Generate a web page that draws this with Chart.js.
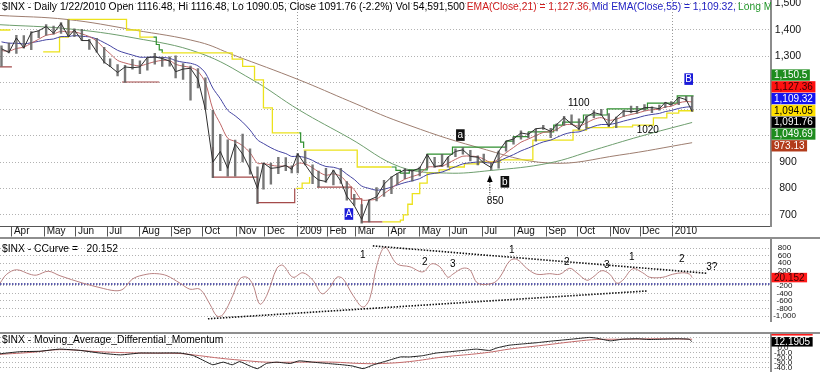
<!DOCTYPE html>
<html><head><meta charset="utf-8"><title>$INX daily</title>
<script src="https://cdn.jsdelivr.net/npm/chart.js@4.4.1/dist/chart.umd.min.js"></script>
<style>
html,body{margin:0;padding:0;background:#fff}
#wrap{position:relative;width:820px;height:382px;overflow:hidden;background:#fff}
canvas{position:absolute;left:0;display:block}
.sep{position:absolute;left:0;width:820px;height:2px;background:#8e8e8e}
</style></head><body>
<div id="wrap">
<canvas id="cp" width="820" height="237" style="top:0px"></canvas>
<div class="sep" style="top:237px"></div>
<canvas id="cc" width="820" height="93" style="top:239px"></canvas>
<div class="sep" style="top:332px"></div>
<canvas id="cm" width="820" height="48" style="top:334px"></canvas>
</div>
<script>
// ---------- x axis: trading-day index since 19 Mar 2008 ----------
const X_MIN = 0, X_MAX = 518;
const monthTickDays = [8,30,51,72,94,115,136,159,178,200,220,239,261,282,302,324,346,367,388,410,430,452];
const monthTickLabels = ['Apr','May','Jun','Jul','Aug','Sep','Oct','Nov','Dec','2009','Feb','Mar','Apr','May','Jun','Jul','Aug','Sep','Oct','Nov','Dec','2010'];
const yearTickLabels = ['2009','2010'];

// ---------- price panel (weekly samples) ----------
const weekDays = [1,6,11,16,21,26,31,36,41,46,50,55,60,65,70,74,79,84,89,94,99,104,109,114,118,123,128,133,138,143,148,153,158,163,168,173,177,182,187,192,196,200,
205,210,214,219,224,229,233,238,243,248,253,258,263,267,272,277,282,287,292,297,301,306,311,316,321,325,330,335,340,345,350,355,360,365,370,374,379,384,389,394,399,404,409,414,419,424,428,433,438,443,447,451,456,461,465];
const weekClose = [1329,1315,1370,1332,1390,1397,1413,1388,1425,1375,1400,1360,1360,1317,1278,1262,1239,1260,1257,1260,1296,1298,1292,1282,1242,1252,1255,1213,1099,899,940,876,968,930,873,800,896,876,879,887,872,931,
890,850,832,826,869,827,770,735,683,756,768,816,843,857,870,866,877,929,883,887,919,940,946,921,918,896,879,940,979,987,1010,1005,1026,1029,1016,1042,1068,1044,1025,1071,1087,1080,1036,1069,1093,1091,1092,1106,1106,1102,1126,1115,1145,1136,1092];
const weekHigh = [1341,1352,1381,1380,1395,1399,1422,1416,1429,1440,1406,1404,1366,1370,1336,1292,1270,1267,1290,1284,1297,1313,1299,1300,1303,1274,1265,1255,1220,1097,1006,985,984,1007,951,883,897,897,919,918,887,934,
943,891,867,877,871,877,827,779,740,758,804,832,845,857,876,871,882,930,919,930,920,951,956,945,925,931,898,943,980,996,1019,1013,1027,1040,1029,1046,1074,1080,1065,1076,1096,1101,1085,1071,1097,1113,1112,1119,1110,1117,1127,1130,1146,1150,1150];
const weekLow = [1262,1312,1310,1330,1324,1370,1379,1383,1386,1373,1373,1358,1325,1315,1273,1260,1225,1200,1250,1233,1247,1269,1261,1262,1217,1212,1133,1179,1098,839,866,845,845,899,853,741,796,815,855,866,857,857,
888,817,804,821,812,818,754,734,667,672,751,768,779,814,836,826,846,875,878,881,879,919,928,903,888,896,869,875,940,966,985,990,978,1022,991,1016,1037,1041,1020,1026,1067,1076,1033,1029,1071,1085,1083,1094,1086,1095,1105,1115,1116,1131,1090];
const ema21 = [1322,1320,1330,1335,1350,1365,1380,1385,1395,1392,1393,1385,1375,1358,1330,1310,1285,1275,1268,1264,1272,1280,1285,1284,1270,1263,1258,1243,1200,1100,1045,990,978,962,935,895,895,888,884,885,880,895,
893,878,863,850,855,846,823,795,757,756,760,780,800,818,835,845,855,880,882,884,895,910,922,922,920,911,898,911,935,955,975,987,1000,1012,1015,1023,1040,1042,1036,1048,1062,1068,1058,1062,1073,1080,1085,1093,1098,1100,1109,1111,1124,1129,1127.36];
const ema55 = [1355,1350,1350,1347,1352,1357,1363,1366,1375,1375,1379,1376,1374,1366,1352,1340,1323,1313,1305,1297,1297,1297,1296,1293,1284,1278,1274,1264,1237,1180,1140,1096,1075,1051,1021,984,970,954,941,932,921,922,
917,906,894,883,880,871,854,834,809,800,793,797,805,813,822,829,837,852,857,862,871,882,893,897,900,899,896,903,916,928,942,953,965,976,983,993,1005,1012,1014,1024,1035,1042,1042,1047,1055,1062,1067,1075,1080,1084,1091,1095,1103,1108,1109.32];
const longGreenDays = [0,45,90,134,170,201,235,269,300,330,369,400,430,465];
const longGreenVals = [1420,1405,1370,1313,1210,1097,990,881,858,868,896,947,997,1049.69];
const longBrownDays = [0,45,90,134,157,201,235,269,320,369,416,465];
const longBrownVals = [1455,1440,1400,1354,1305,1211,1130,1051,957,896,926,973.13];
const stopYellow = [[0,1400],[7,1400],null,
 [29,1317],[40,1373],[46,1440],[85,1400],[94,1373],[103,1373],null,
 [109,1313],[156,1290],[163,1262],[171,1211],[177,1105],[183,1010],[201,1010],null,
 [199,800],[203,820],[208,843],null,
 [204,945],[240,881],[263,881],null,
 [257,673],[269,680],[271,700],[274,740],[277,780],[282,820],[287,858],[295,870],[302,881],[312,893],[322,900],[336,908],[358,983],[385,1021],[394,1030],[412,1033],[425,1040],[439,1067],[448,1085],[456,1094.05],[466,1094.05]];
const stopGreen = [[103,1373],[105,1345],[107,1325],[109,1313],null,
 [201,1010],[202,975],[204,953],null,
 [263,881],[266,868],[269,858],[275,870],[287,930],[304,956],[340,979],[345,996],[355,1014],[372,1040],[378,1051],[392,1078],[408,1101],[435,1123],[455,1150.5],[466,1150.5]];
const stopBrown = [[0,1260],[8,1260],null,
 [82,1203],[107,1203],null,
 [143,957],[143,843],[173,746],[198,746],[198,800],null,
 [213,805],[230,805],[236,760],[243,673],[257,673]];
const priceTicks = [700,800,900,1000,1100,1200,1300,1400,1500];
const priceTicksHidden = [1000,1100,1200];
const priceLast = [
 {v:1150.5, t:'1,150.5', bg:'#1e8c1e', fg:'#fff'},
 {v:1127.36, t:'1,127.36', bg:'#ff1010', fg:'#3a0000'},
 {v:1109.32, t:'1,109.32', bg:'#1414f0', fg:'#fff'},
 {v:1094.05, t:'1,094.05', bg:'#ffe000', fg:'#000'},
 {v:1091.76, t:'1,091.76', bg:'#000', fg:'#fff'},
 {v:1049.69, t:'1,049.69', bg:'#1e8c1e', fg:'#fff'},
 {v:973.13, t:'973.13', bg:'#b23c1c', fg:'#fff'}];
const priceTitle = [
 {t:'$INX - Daily 1/22/2010 Open 1116.48, Hi 1116.48, Lo 1090.05, Close 1091.76 (-2.2%) Vol', x:2, c:'#000'},
 {t:'54,591,500', x:413, c:'#000'},
 {t:'EMA(Close,21) = 1,127.36,', x:466.7, c:'#d01e1e'},
 {t:'Mid EMA(Close,55) = 1,109.32,', x:591.7, c:'#2424c4'},
 {t:'Long MA', x:738, c:'#22962a'}];
const priceBoxNotes = [{d:234.4, v:703, t:'A', bg:'#1a1ad8'},{d:462.7, v:1214, t:'B', bg:'#1a1ad8'},{d:309.3, v:1002, t:'a', bg:'#111'},{d:339.2, v:825, t:'b', bg:'#111'}];
const priceTextNotes = [{d:332.7, v:752, t:'850'},{d:388.8, v:1123, t:'1100'},{d:435.2, v:1021, t:'1020'}];
const priceArrow = {d:329.1, tip:851, base:824, stemEnd:775};

// ---------- CCurve panel ----------
const ccDays = [0,4.5,11.2,20.1,24.6,32.4,40.3,55.7,67.2,77.2,82.6,89.3,98.7,105.4,112.2,120.9,127.6,134.3,141,145.7,149.8,156.5,161.2,165.9,169.9,174.6,179.3,186,190,196.8,203.5,210.2,216.3,221.6,226.3,230.4,237.1,243.8,248.5,253.2,258.6,266.6,275.4,284.1,290.1,295.5,300.9,304.2,310.9,315.6,321,331.1,335.8,342.5,347.2,353.9,360.6,369.4,376.1,382.8,387.5,394.2,398.3,404.3,409.7,414.4,418.4,425.1,431.8,436.5,445.3,452,458.7,463.4,465];
const ccVals = [-128,109,228,109,86,188,69,-128,-247,-328,-288,-10,109,124,69,-128,-288,-288,-684,-1000,-962,-447,-10,29,-169,-684,-447,267,347,29,148,-50,-407,-247,29,-10,-447,-763,-526,347,823,386,307,172,386,307,29,109,267,228,-128,-128,29,466,505,267,109,124,109,267,148,-50,29,204,109,-128,-50,252,148,29,29,109,148,109,20.152];
const ccTicks = [-1000,-800,-600,-400,-200,0,200,400,600,800];
const ccTicksHidden = [0];
const ccRefLevel = -150;
const ccLast = 20.152;
const ccTrendLines = [[250.5,861,475.5,133],[139.7,-1073,434.5,-335]];
const ccWaveLabels = [[243.8,616,'1'],[285.4,426,'2'],[304.2,378,'3'],[343.9,735,'1'],[380.8,426,'2'],[407.7,354,'3'],[424.4,568,'1'],[458,497,'2'],[478.2,307,'3?']];

// ---------- Moving Average Differential Momentum ----------
const mdBlackDays = [0,13,27,40,54,67,81,94,107,121,130,139,143,150,156,161,168,173,179,186,195,201,210,220,230,237,244,251,260,269,275,284,293,302,311,320,329,334,342,351,361,369,378,387,396,401,410,418,428,436,445,455,463,465];
const mdBlackVals = [-12,-7.9,-6.8,-2.6,-5.2,-10.5,-14.2,-10.5,-10.5,-10.5,-15.8,-28.9,-34.2,-28.9,-34.2,-27.8,-36.8,-42,-31.6,-28.9,-31.6,-26.3,-28.9,-31.6,-34.2,-36.8,-42,-34.2,-26.3,-18.4,-18.4,-15.8,-10.5,-7.9,-5.2,-2.6,-5.2,0,5.3,7.9,10.5,13.2,15.8,18.4,21.1,19.5,14.2,17.4,18.4,16.9,17.4,18.4,17.4,12.1905];
const mdRedDays = [0,22,40,67,94,121,134,148,161,179,201,224,242,257,275,298,320,331,342,365,387,401,421,443,465];
const mdRedVals = [-13.1,-8.9,-3.6,-7.9,-10.5,-11.5,-15.8,-21,-24.7,-28.9,-28.9,-28.9,-31.6,-31.6,-27.8,-18.4,-12,-7.9,-2.6,5.3,13.2,16.9,17.4,18.4,17.4];
const mdTicks = [-40,-30,-20,-10,0,10,20];
const mdLastBlack = 12.1905, mdLastRed = 17.3921;

// ---------- helpers ----------
const FONT = "'Liberation Sans', Arial, Helvetica, sans-serif";
Chart.defaults.font.family = FONT;
Chart.defaults.font.size = 10;
Chart.defaults.color = '#000';
Chart.defaults.animation = false;
Chart.defaults.responsive = false;
Chart.defaults.events = [];
Chart.defaults.plugins.legend.display = false;
Chart.defaults.plugins.tooltip.enabled = false;
Chart.defaults.elements.point.radius = 0;
Chart.defaults.elements.point.hoverRadius = 0;
Chart.defaults.elements.line.borderWidth = 1;

const AXIS_W = 49, PLOT_R = 771;
const mctx = document.createElement('canvas').getContext('2d');
function textW(t, size){ mctx.font = size + 'px ' + FONT; return mctx.measureText(t).width; }
const comma = v => (v < 0 ? '-' : '') + Math.abs(v).toString().replace(/\B(?=(\d{3})+(?!\d))/g, ',');
const pts = (xs, ys) => xs.map((x, i) => ({x, y: ys[i]}));
const pairPts = arr => arr.map((p, i) => p ? {x: p[0], y: p[1]} : {x: arr[i - 1][0], y: null});
const rangeSegs = weekDays.flatMap((d, i) => [{x: d, y: weekLow[i]}, {x: d, y: weekHigh[i]}, {x: d, y: null}]);

function xAxis(show){
  return {
    type:'linear', min:X_MIN, max:X_MAX, offset:false, display:show, bounds:'data',
    afterBuildTicks: s => { s.ticks = monthTickDays.map(v => ({value: v})); },
    afterFit: s => { s.height = 10.5; s.paddingLeft = 0; s.paddingRight = 0; },
    grid: { offset:false, drawTicks:true, tickLength:10, tickColor:'#555', tickWidth:1, lineWidth:1,
      color: c => (c.index !== undefined && yearTickLabels.includes(monthTickLabels[c.index])) ? '#9a9a9a' : 'rgba(0,0,0,0)' },
    border: { display:true, color:'#555', width:1, dash:[1,2] },
    ticks: { autoSkip:false, maxRotation:0, minRotation:0, align:'start', labelOffset:2, padding:-10.8,
      font:{size:10}, color:'#111', callback: (v, i) => monthTickLabels[i] }
  };
}
function yAxis(min, max, ticks, labelFn, fontSize, centerX){
  const wide = Math.max(...ticks.map(v => textW(labelFn(v), fontSize)));
  return {
    type:'linear', position:'right', min, max, bounds:'data',
    afterBuildTicks: s => { s.ticks = ticks.map(v => ({value: v})); },
    afterFit: s => { s.width = AXIS_W; s.paddingTop = 0; s.paddingBottom = 0; },
    grid: { color:'#b2b2b2', lineWidth:1, drawTicks:false },
    border: { display:true, color:'#8c8c8c', width:2, dash:[1,2] },
    ticks: { autoSkip:false, crossAlign:'center', padding: centerX - PLOT_R - wide / 2,
      font:{size:fontSize}, color:'#111', callback: v => labelFn(v) }
  };
}
function drawText(ctx, t, x, y, color, size, align, sx){
  ctx.save();
  ctx.font = size + 'px ' + FONT;
  ctx.fillStyle = color; ctx.textAlign = align || 'left'; ctx.textBaseline = 'alphabetic';
  ctx.translate(x, y); ctx.scale(sx || 1, 1); ctx.fillText(t, 0, 0);
  ctx.restore();
}
function valueBox(ctx, cy, t, bg, fg, h){
  ctx.save();
  ctx.font = '10px ' + FONT;
  const w = ctx.measureText(t).width + 5;
  ctx.fillStyle = bg; ctx.fillRect(PLOT_R + 0.5, cy - h / 2, w, h);
  ctx.fillStyle = fg; ctx.textAlign = 'left'; ctx.textBaseline = 'middle';
  ctx.fillText(t, PLOT_R + 3, cy + 0.5);
  ctx.restore();
}
const titleSx = 408 / textW(priceTitle[0].t, 10);

// ---------- price chart ----------
const pricePaint = {
  id:'pricePaint',
  afterDatasetsDraw(chart){
    const {ctx, chartArea: ca, scales: {x, y}} = chart;
    ctx.save();
    ctx.beginPath(); ctx.rect(ca.left, ca.top, ca.right - ca.left, ca.bottom - ca.top); ctx.clip();
    priceTitle.forEach(s => drawText(ctx, s.t, s.x, 10, s.c, 10, 'left', titleSx));
    priceBoxNotes.forEach(b => {
      const cx = x.getPixelForValue(b.d), cy = y.getPixelForValue(b.v);
      ctx.fillStyle = b.bg; ctx.fillRect(cx - 4.3, cy - 5.8, 8.6, 11.6);
      ctx.fillStyle = '#fff'; ctx.font = '10px ' + FONT; ctx.textAlign = 'center'; ctx.textBaseline = 'middle';
      ctx.fillText(b.t, cx, cy + 0.5);
    });
    priceTextNotes.forEach(n => {
      ctx.fillStyle = '#000'; ctx.font = '10px ' + FONT; ctx.textAlign = 'center'; ctx.textBaseline = 'middle';
      ctx.fillText(n.t, x.getPixelForValue(n.d), y.getPixelForValue(n.v));
    });
    const ax = x.getPixelForValue(priceArrow.d), tY = y.getPixelForValue(priceArrow.tip), bY = y.getPixelForValue(priceArrow.base), eY = y.getPixelForValue(priceArrow.stemEnd);
    ctx.fillStyle = '#000'; ctx.beginPath(); ctx.moveTo(ax, tY); ctx.lineTo(ax - 2.8, bY); ctx.lineTo(ax + 2.8, bY); ctx.closePath(); ctx.fill();
    ctx.strokeStyle = '#000'; ctx.lineWidth = 1; ctx.setLineDash([1, 1.5]);
    ctx.beginPath(); ctx.moveTo(ax, bY); ctx.lineTo(ax, eY); ctx.stroke(); ctx.setLineDash([]);
    ctx.restore();
    // last-value boxes on the axis
    const ys = priceLast.map(b => y.getPixelForValue(b.v));
    const mean = ys.reduce((a, b) => a + b, 0) / ys.length;
    const h = 11.8;
    priceLast.forEach((b, i) => valueBox(ctx, mean - 2.7 + (i - (priceLast.length - 1) / 2) * h, b.t, b.bg, b.fg, 11.3));
  }
};
const priceLabel = v => priceTicksHidden.includes(v) ? '' : comma(v);
new Chart(document.getElementById('cp'), {
  type:'line',
  data:{ datasets:[
    {label:'Close', data: pts(weekDays, weekClose), borderColor:'#2e2e2e', borderWidth:1},
    {label:'Range', data: rangeSegs, borderColor:'rgba(95,95,95,0.85)', borderWidth:2.4},
    {label:'EMA(Close,21)', data: pts(weekDays, ema21), borderColor:'#bf6666', tension:0.3},
    {label:'Mid EMA(Close,55)', data: pts(weekDays, ema55), borderColor:'#4444a2', tension:0.3},
    {label:'Stop', data: pairPts(stopYellow), borderColor:'#ece21c', borderWidth:1.3, stepped:true},
    {label:'Upper', data: pairPts(stopGreen), borderColor:'#2f8f2f', borderWidth:1.2, stepped:true},
    {label:'Lower', data: pairPts(stopBrown), borderColor:'#a44a4a', borderWidth:1.2, stepped:true},
    {label:'Long MA', data: pts(longGreenDays, longGreenVals), borderColor:'#6e9e6e', tension:0.4},
    {label:'Longer MA', data: pts(longBrownDays, longBrownVals), borderColor:'#9e7e70', tension:0.4}
  ]},
  options:{
    layout:{padding:0},
    scales:{ x: xAxis(true), y: yAxis(655.7, 1513.6, priceTicks, priceLabel, 10.5, 788) }
  },
  plugins:[pricePaint]
});

// ---------- CCurve chart ----------
const ccPaint = {
  id:'ccPaint',
  afterDatasetsDraw(chart){
    const {ctx, scales:{x, y}} = chart;
    drawText(ctx, '$INX - CCurve =   20.152', 2, 13.3, '#000', 10, 'left', titleSx);
    ctx.save();
    ctx.strokeStyle = '#111'; ctx.lineWidth = 1.6; ctx.setLineDash([1.5, 1.5]);
    ccTrendLines.forEach(l => {
      ctx.beginPath(); ctx.moveTo(x.getPixelForValue(l[0]), y.getPixelForValue(l[1]));
      ctx.lineTo(x.getPixelForValue(l[2]), y.getPixelForValue(l[3])); ctx.stroke();
    });
    ctx.setLineDash([]);
    ctx.fillStyle = '#000'; ctx.font = '10px ' + FONT; ctx.textAlign = 'center'; ctx.textBaseline = 'middle';
    ccWaveLabels.forEach(l => ctx.fillText(l[2], x.getPixelForValue(l[0]), y.getPixelForValue(l[1])));
    ctx.restore();
    valueBox(ctx, y.getPixelForValue(ccLast), '20.152', '#ff1a1a', '#3a0000', 9.5);
  }
};
const ccLabel = v => ccTicksHidden.includes(v) ? '' : comma(v);
new Chart(document.getElementById('cc'), {
  type:'line',
  data:{ datasets:[
    {label:'CCurve', data: pts(ccDays, ccVals), borderColor:'#b98282', tension:0.35},
    {label:'Ref', data: [{x:X_MIN, y:ccRefLevel},{x:X_MAX, y:ccRefLevel}], borderColor:'#24248e', borderWidth:1.6, borderDash:[1.5,1.5]}
  ]},
  options:{ layout:{padding:0}, scales:{ x: xAxis(false), y: yAxis(-1145, 1044, ccTicks, ccLabel, 8, 784.5) } },
  plugins:[ccPaint]
});

// ---------- MADM chart ----------
const mdPaint = {
  id:'mdPaint',
  afterDatasetsDraw(chart){
    const {ctx, scales:{y}} = chart;
    drawText(ctx, '$INX - Moving_Average_Differential_Momentum', 2, 9.3, '#000', 10, 'left', titleSx);
    const cy = y.getPixelForValue(mdLastBlack);
    valueBox(ctx, cy - 11, mdLastRed.toFixed(4), '#ff1a1a', '#3a0000', 9.5);
    valueBox(ctx, cy, mdLastBlack.toFixed(4), '#000', '#fff', 9.5);
  }
};
const mdLabel = v => v > 0 ? '' : v.toFixed(1);
new Chart(document.getElementById('cm'), {
  type:'line',
  data:{ datasets:[
    {label:'MADM', data: pts(mdBlackDays, mdBlackVals), borderColor:'#1e1e1e', tension:0.15},
    {label:'Signal', data: pts(mdRedDays, mdRedVals), borderColor:'#c46a6a', tension:0.4}
  ]},
  options:{ layout:{padding:0}, scales:{ x: xAxis(false), y: yAxis(-47.8, 28, mdTicks, mdLabel, 8, 783) } },
  plugins:[mdPaint]
});
</script>
</body></html>
